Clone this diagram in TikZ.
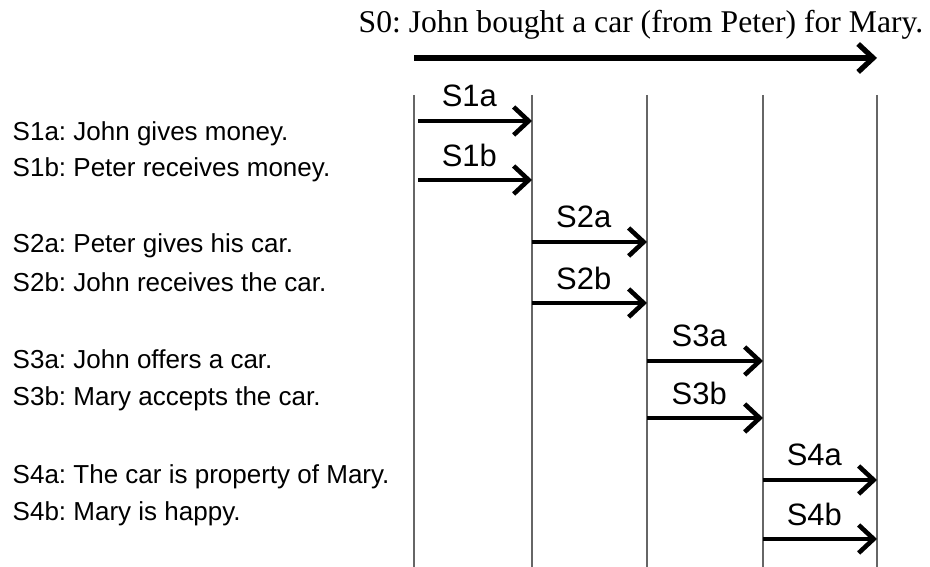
\documentclass[tikz,border=0pt]{standalone}
\usepackage{fontspec}
\setmainfont{Liberation Sans}
\newfontfamily\titlefont{Liberation Serif}
\usetikzlibrary{arrows.meta}
\frenchspacing

\begin{document}
\begin{tikzpicture}[
  lane/.style={draw=black!60, line width=0.5pt},
  evt/.style={-{Straight Barb[length=1.5mm, width=2.8mm]}, line width=1.3pt},
  lbl/.style={font=\fontsize{8.8}{10}\selectfont, inner sep=0pt},
  sent/.style={anchor=base west, font=\fontsize{7.4}{9}\selectfont, inner sep=0pt},
  ttl/.style={anchor=base west, font=\titlefont\fontsize{9}{10}\selectfont, inner sep=0pt}
]
\useasboundingbox (0,0) rectangle (9.30,5.67);
% lanes
\foreach \i/\x in {0/4.14, 1/5.32, 2/6.47, 3/7.63, 4/8.77} {
  \coordinate (top\i) at (\x,4.72);
  \coordinate (bot\i) at (\x,0);
  \draw[lane] (top\i) -- (bot\i);
}
% whole event
\node[ttl] (s0) at (3.58,5.34) {S0: John bought a car (from Peter) for Mary.};
\coordinate (go) at (4.14,5.09);
\draw[evt, line width=1.5pt] (go) -- (go -| top4);
% sub-events
\foreach \n/\a/\b/\y/\d in {1a/0/1/4.46/0.04, 1b/0/1/3.87/0.04, 2a/1/2/3.25/0, 2b/1/2/2.64/0,
                            3a/2/3/2.06/0, 3b/2/3/1.49/0, 4a/3/4/0.87/0, 4b/3/4/0.28/0} {
  \coordinate (e\n) at (top\a |- 0,\y);
  \draw[evt] ([xshift=\d cm]e\n) -- (e\n -| top\b)
    node[lbl, pos=0.45, yshift=0.25cm] (l\n) {S\n};
}
% sentences
\node[sent] (t1a) at (0.12,4.26) {S1a: John gives money.};
\node[sent] (t1b) at (0.12,3.90) {S1b: Peter receives money.};
\node[sent] (t2a) at (0.12,3.14) {S2a: Peter gives his car.};
\node[sent] (t2b) at (0.12,2.75) {S2b: John receives the car.};
\node[sent] (t3a) at (0.12,1.98) {S3a: John offers a car.};
\node[sent] (t3b) at (0.12,1.61) {S3b: Mary accepts the car.};
\node[sent] (t4a) at (0.12,0.83) {S4a: The car is property of Mary.};
\node[sent] (t4b) at (0.12,0.46) {S4b: Mary is happy.};
\end{tikzpicture}
\end{document}
